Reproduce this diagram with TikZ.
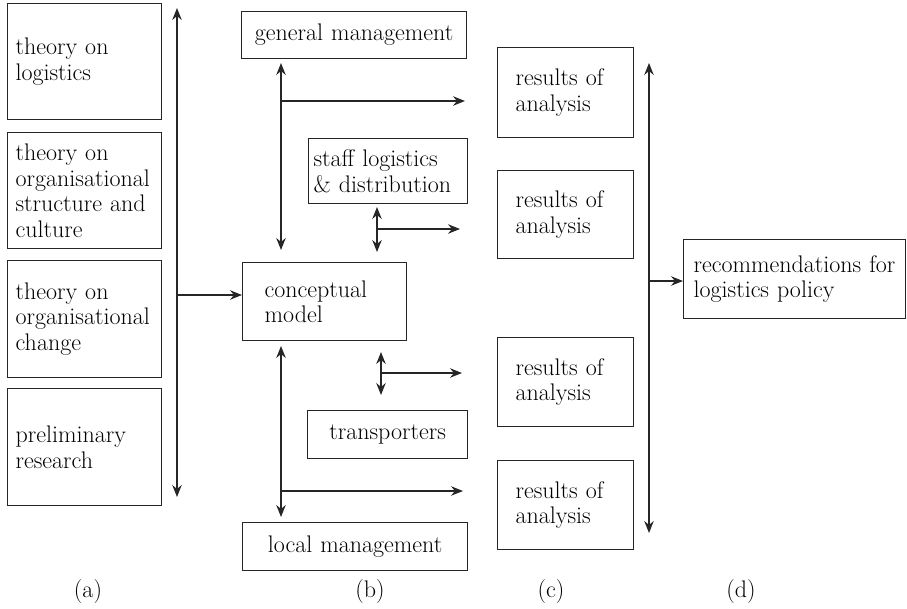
\documentclass[tikz,border=0pt]{standalone}
\usepackage{fontspec}
\setmainfont{Latin Modern Roman}
\usetikzlibrary{arrows.meta}
\begin{document}
\begin{tikzpicture}[x=1pt,y=-1pt,
  font=\fontsize{24}{25.5}\selectfont,
  box/.style={draw=black!85, line width=1.2pt, rectangle, anchor=north west, inner ysep=0pt},
  lbox/.style={box, align=left},
  cbox/.style={box, align=center},
  tip/.style={line width=1.2pt, draw=black!85, -{Stealth[length=12pt,width=9.5pt,inset=4pt]}},
  dtip/.style={line width=1.2pt, draw=black!85, {Stealth[length=12pt,width=9.5pt,inset=4pt]}-{Stealth[length=12pt,width=9.5pt,inset=4pt]}},
  captext/.style={anchor=center}]
\useasboundingbox (0,0) rectangle (907,608);

% column (a)
\node[lbox, inner xsep=8pt, text width=138pt, minimum height=116pt] (a1) at (7,3) {theory on\\logistics};
\node[lbox, inner xsep=8pt, text width=138pt, minimum height=116pt] (a2) at (7,132) {theory on\\organisational\\structure and\\culture};
\node[lbox, inner xsep=8pt, text width=138pt, minimum height=117pt] (a3) at (7,260) {theory on\\organisational\\change};
\node[lbox, inner xsep=8pt, text width=138pt, minimum height=117pt] (a4) at (7,388) {preliminary\\research};

% column (b)
\node[cbox, inner xsep=5pt, text width=215pt, minimum height=47pt] (gm) at (241,11) {general management};
\node[lbox, inner xsep=5pt, text width=149pt, minimum height=65pt] (st) at (308,138) {staff logistics\\\& distribution};
\node[lbox, inner xsep=22pt, text width=120pt, minimum height=78pt] (cm) at (242,262) {conceptual\\model};
\node[cbox, inner xsep=5pt, text width=150pt, minimum height=48pt] (tr) at (307,410) {transporters};
\node[cbox, inner xsep=5pt, text width=215pt, minimum height=48pt] (lm) at (242,522) {local management};

% column (c)
\node[lbox, inner xsep=18pt, text width=100pt, minimum height=90pt] (r1) at (497,47) {results of\\analysis};
\node[lbox, inner xsep=18pt, text width=100pt, minimum height=88pt] (r2) at (497,170) {results of\\analysis};
\node[lbox, inner xsep=18pt, text width=100pt, minimum height=89pt] (r3) at (497,337) {results of\\analysis};
\node[lbox, inner xsep=18pt, text width=100pt, minimum height=89pt] (r4) at (497,460) {results of\\analysis};

% column (d)
\node[lbox, inner xsep=10pt, text width=202pt, minimum height=79pt] (rec) at (683,239) {recommendations for\\logistics policy};

% coordinates
\coordinate (aT) at (177,8);
\coordinate (aB) at (177,497);
\coordinate (aM) at (177,295);
\coordinate (u1) at (281,63);
\coordinate (u2) at (281,250);
\coordinate (uM) at (281,101);
\coordinate (uE) at (465,101);
\coordinate (s1) at (377,207);
\coordinate (s2) at (377,252);
\coordinate (sM) at (377,229);
\coordinate (sE) at (460,229);
\coordinate (t1) at (381,352);
\coordinate (t2) at (381,395);
\coordinate (tM) at (381,373);
\coordinate (tE) at (462,373);
\coordinate (l1) at (281,346);
\coordinate (l2) at (281,517);
\coordinate (lM) at (281,491);
\coordinate (lE) at (463,491);
\coordinate (cT) at (649,63);
\coordinate (cB) at (649,533);
\coordinate (cM) at (649,281);

% connectors
\draw[dtip] (aT) -- (aB);
\draw[tip] (aM) -- (aM -| cm.west);
\draw[dtip] (u1) -- (u2);
\draw[tip] (uM) -- (uE);
\draw[dtip] (s1) -- (s2);
\draw[tip] (sM) -- (sE);
\draw[dtip] (t1) -- (t2);
\draw[tip] (tM) -- (tE);
\draw[dtip] (l1) -- (l2);
\draw[tip] (lM) -- (lE);
\draw[dtip] (cT) -- (cB);
\draw[tip] (cM) -- (cM -| rec.west);

% captions
\node[captext] (la) at (88,592) {(a)};
\node[captext] (lb) at (370,592) {(b)};
\node[captext] (lc) at (551,592) {(c)};
\node[captext] (ld) at (741,592) {(d)};
\end{tikzpicture}
\end{document}
